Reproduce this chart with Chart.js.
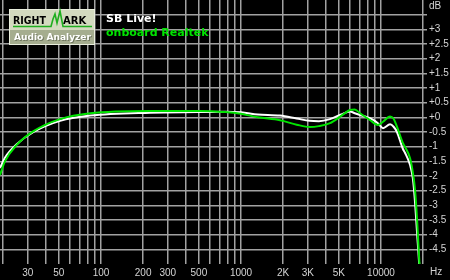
<!DOCTYPE html>
<html><head><meta charset="utf-8">
<script src="https://cdn.jsdelivr.net/npm/chart.js@4.4.1/dist/chart.umd.min.js"></script>
<style>html,body{margin:0;padding:0;background:#000;overflow:hidden}#wrap{width:450px;height:280px}</style>
</head><body><div id="wrap"><canvas id="c" width="450" height="280"></canvas></div>
<script>
// Frequencies (Hz) at which the responses were read
const freqs   = [19, 20.6, 25, 33, 51, 84, 224, 500, 770, 1000, 1320, 1900, 2500, 3100, 3600, 4320, 5200, 6000, 6500, 7080, 8330, 9500, 10330, 11600, 12300, 13000, 14340, 14800, 16100, 16900, 17500, 18100, 18800, 19500];
// Response, dB
const sbLive  = [-1.73, -1.38, -0.92, -0.50, -0.12, 0.06, 0.16, 0.18, 0.19, 0.17, 0.10, 0.06, -0.04, -0.12, -0.13, -0.06, 0.10, 0.20, 0.14, 0.08, -0.03, -0.20, -0.37, -0.24, -0.32, -0.50, -1.08, -1.20, -1.62, -2.10, -2.90, -3.95, -5.10, -6.00];
const realtek = [-1.97, -1.50, -0.94, -0.47, -0.06, 0.14, 0.22, 0.22, 0.18, 0.12, 0.00, -0.10, -0.25, -0.33, -0.30, -0.20, 0.05, 0.25, 0.27, 0.14, -0.09, -0.26, -0.15, 0.03, -0.05, -0.32, -0.88, -1.00, -1.39, -1.90, -2.48, -3.50, -4.97, -6.00];
const seriesNames = ['SB Live!', 'onboard Realtek'];

const xGridValues = [20,30,40,50,60,70,80,90,100,200,300,400,500,600,700,800,900,1000,2000,3000,4000,5000,6000,7000,8000,9000,10000,20000];
const xTickValues = [30,50,100,200,300,500,1000,2000,3000,5000,10000];
const xTickLabels = ['30','50','100','200','300','500','1000','2K','3K','5K','10000'];
const yGridValues = [-5,-4.5,-4,-3.5,-3,-2.5,-2,-1.5,-1,-0.5,0,0.5,1,1.5,2,2.5,3,3.5,4];
const yTickValues = [3,2.5,2,1.5,1,0.5,0,-0.5,-1,-1.5,-2,-2.5,-3,-3.5,-4,-4.5];
const yTickLabels = ['+3','+2.5','+2','+1.5','+1','+0.5','+0','-0.5','-1','-1.5','-2','-2.5','-3','-3.5','-4','-4.5'];

const GRID = '#a2a2a2';
const TICK = '#d4d4d4';
const GREEN = '#00e400';

const overlay = {
  id: 'overlay',
  beforeDraw(chart) {
    const c = chart.ctx;
    c.save(); c.fillStyle = '#000'; c.fillRect(0, 0, chart.width, chart.height); c.restore();
  },
  afterDraw(chart) {
    const c = chart.ctx;
    c.save();
    // axis unit labels
    c.fillStyle = TICK;
    c.font = '10px "Liberation Sans", Arial, sans-serif';
    c.textBaseline = 'middle'; c.textAlign = 'left';
    c.fillText('dB', 429, 6);
    c.fillText('Hz', 430, 272);
    // logo box
    c.fillStyle = '#e8eddc'; c.fillRect(9, 9, 86, 36);
    c.fillStyle = '#d3dabf'; c.fillRect(10, 10, 84, 20);
    c.fillStyle = '#a5ad8f'; c.fillRect(10, 30, 84, 14);
    c.fillStyle = '#000';
    c.textBaseline = 'alphabetic';
    c.font = 'bold 10px "DejaVu Sans", Verdana, sans-serif';
    c.fillText('RIGHT', 13, 24, 33);
    c.fillText('ARK', 63, 24, 28);
    c.strokeStyle = '#1fae1f'; c.lineWidth = 1.6; c.lineJoin = 'miter';
    c.beginPath();
    c.moveTo(13, 26.5); c.lineTo(51, 26.5); c.lineTo(53, 19); c.lineTo(55, 14);
    c.lineTo(57, 23); c.lineTo(60, 11); c.lineTo(63, 26.5); c.lineTo(92, 26.5);
    c.stroke();
    c.fillStyle = '#6f765e';
    c.font = 'bold 9.5px "DejaVu Sans", Verdana, sans-serif';
    c.fillText('Audio Analyzer', 15, 40.5, 77);
    c.fillStyle = '#ffffff';
    c.fillText('Audio Analyzer', 14, 39.5, 77);
    // series legend
    c.font = 'bold 11px "DejaVu Sans", Verdana, sans-serif';
    c.fillStyle = '#ffffff';
    c.fillText(seriesNames[0], 106, 21.5);
    c.fillStyle = GREEN;
    c.fillText(seriesNames[1], 106, 35.5);
    c.restore();
  }
};

new Chart(document.getElementById('c'), {
  type: 'line',
  data: {
    datasets: [
      { label: seriesNames[1], data: freqs.map((f, i) => ({x: f, y: realtek[i]})), borderColor: GREEN, borderWidth: 2, pointRadius: 0, cubicInterpolationMode: 'monotone', order: 0 },
      { label: seriesNames[0], data: freqs.map((f, i) => ({x: f, y: sbLive[i]})), borderColor: '#ffffff', borderWidth: 2, pointRadius: 0, cubicInterpolationMode: 'monotone', order: 1 }
    ]
  },
  options: {
    responsive: false,
    animation: false,
    devicePixelRatio: 1,
    layout: { padding: 0 },
    plugins: { legend: { display: false }, tooltip: { enabled: false } },
    scales: {
      x: {
        type: 'logarithmic', position: 'bottom', min: 19, max: 21300,
        afterBuildTicks: s => { s.ticks = xGridValues.map(v => ({value: v})); },
        afterFit: s => { s.height = 16; s.paddingLeft = 0; s.paddingRight = 0; s.paddingTop = 0; s.paddingBottom = 0; },
        grid: { color: GRID, lineWidth: 1.5, drawTicks: false },
        border: { display: false },
        ticks: {
          autoSkip: false, maxRotation: 0, minRotation: 0, padding: 3,
          color: TICK, font: { family: '"Liberation Sans", Arial, sans-serif', size: 10 },
          callback: v => { const i = xTickValues.indexOf(v); return i >= 0 ? xTickLabels[i] : ''; }
        }
      },
      y: {
        type: 'linear', position: 'right', min: -5, max: 4,
        afterBuildTicks: s => { s.ticks = yGridValues.map(v => ({value: v})); },
        afterFit: s => { s.width = 23; s.paddingTop = 0; s.paddingBottom = 0; s.paddingLeft = 0; s.paddingRight = 0; },
        grid: { color: ctx => (ctx.tick && (ctx.tick.value <= -5 || ctx.tick.value >= 4)) ? 'rgba(0,0,0,0)' : GRID, lineWidth: 1.5, drawTicks: false },
        border: { display: false },
        ticks: {
          autoSkip: false, padding: 2, color: TICK, font: { family: '"Liberation Sans", Arial, sans-serif', size: 10 },
          callback: v => { const i = yTickValues.indexOf(v); return i >= 0 ? yTickLabels[i] : ''; }
        }
      }
    }
  },
  plugins: [overlay]
});
</script>
</body></html>
